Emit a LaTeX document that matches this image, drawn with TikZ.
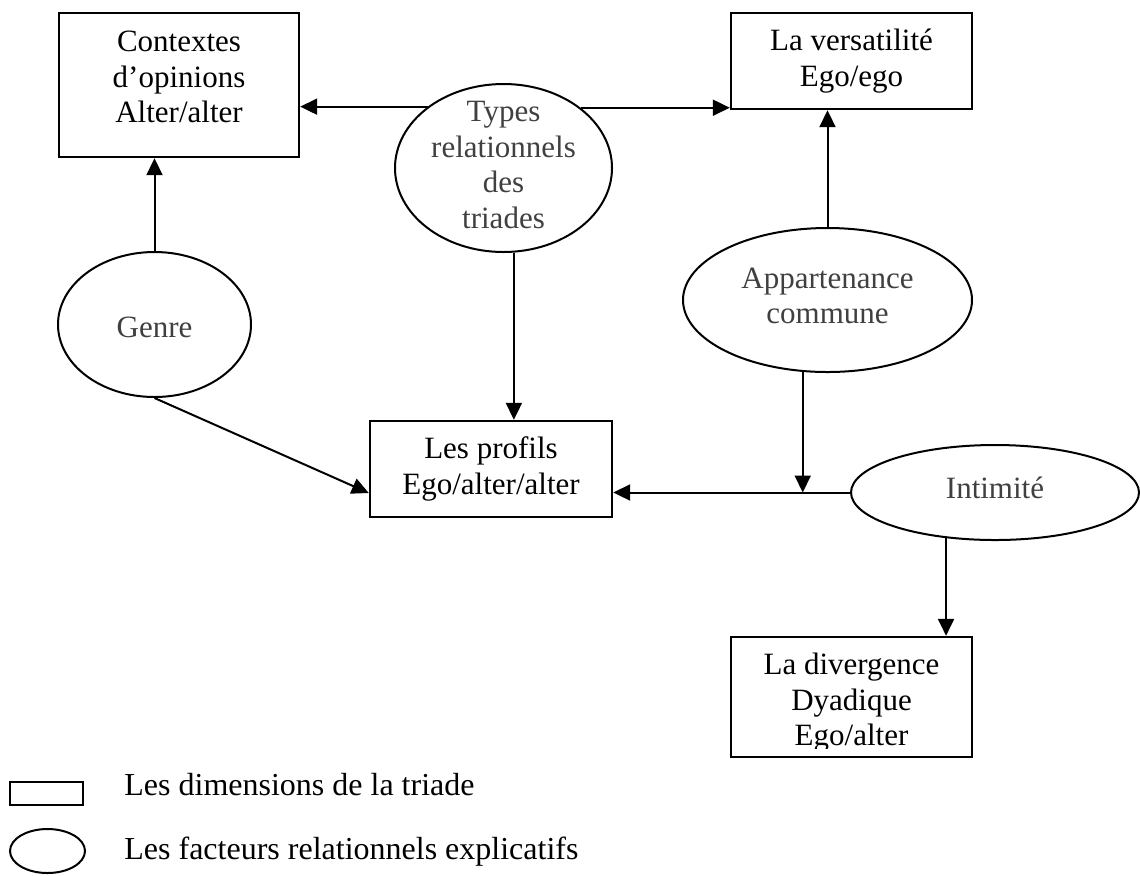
\documentclass[tikz,border=0pt]{standalone}
\usepackage{fontspec}
\setmainfont{Liberation Serif}
\usetikzlibrary{arrows.meta,shapes.geometric}
\newcommand{\nodefont}{\fontsize{15.5}{17.75}\selectfont}
\newcommand{\legendfont}{\fontsize{16}{19}\selectfont}
\definecolor{factorgray}{gray}{0.25}

\begin{document}
\begin{tikzpicture}[x=0.5pt, y=-0.5pt,
		dimtext/.style={align=center, font=\nodefont, text=black},
		dimbox/.style={draw, line width=1.2pt, rectangle, inner sep=0pt, dimtext},
		factor/.style={draw, line width=1pt, ellipse, inner sep=0pt},
		factortext/.style={align=center, font=\nodefont, text=factorgray},
		legendtext/.style={anchor=base west, inner sep=0pt, font=\legendfont},
		link/.style={line width=1pt, -{Triangle[length=8.5pt, width=8pt]}}]
		\useasboundingbox (0,0) rectangle (1140,875);

		% dimensions de la triade
		\node [dimbox, minimum width=120pt, minimum height=72pt] (CTX) at (179, 85) {};
		\node [dimtext] (CTXt) at (179, 77) {Contextes\\d'opinions\\Alter/alter};
		\node [dimbox, minimum width=120.5pt, minimum height=48pt] (VER) at (851.5, 61) {La versatilité\\Ego/ego};
		\node [dimbox, minimum width=121pt, minimum height=48pt] (PRO) at (491, 469) {Les profils\\Ego/alter/alter};
		\node [dimbox, minimum width=120.5pt, minimum height=60pt] (DIV) at (851.5, 697) {};
		\begin{scope}
			\clip (DIV.north west) rectangle ([yshift=5pt]DIV.south east);
			\node [dimtext] (DIVt) at (851.5, 703) {La divergence\\Dyadique\\Ego/alter};
		\end{scope}

		% facteurs relationnels
		\node [factor, minimum width=108.5pt, minimum height=84pt,
			label={[factortext, yshift=1.5pt]center:{Types\\relationnels\\des\\triades}}] (TYP) at (503.5, 168) {};
		\node [factor, minimum width=96.5pt, minimum height=72.5pt,
			label={[factortext, yshift=-1.5pt]center:Genre}] (GEN) at (154.5, 324.5) {};
		\node [factor, minimum width=144.5pt, minimum height=72pt,
			label={[factortext, yshift=2pt]center:{Appartenance\\commune}}] (APP) at (827.5, 300) {};
		\node [factor, minimum width=144pt, minimum height=47.5pt,
			label={[factortext, yshift=2.5pt]center:Intimité}] (INT) at (995, 492.5) {};

		\draw [link] (TYP.141.7) -- (TYP.141.7 -| CTX.east);
		\draw [link] (TYP.38.3) -- (TYP.38.3 -| VER.west);
		\draw [link] (GEN.north) -- (GEN.north |- CTX.south);
		\draw [link] (TYP.277.8) -- (TYP.277.8 |- PRO.north);
		\draw [link] (APP.north) -- (APP.north |- VER.south);
		\draw [link] (APP.251) -- (APP.251 |- INT.west);
		\draw [link] (INT.west) -- (INT.west -| PRO.east);
		\draw [link] (INT.223.7) -- (INT.223.7 |- DIV.north);
		\draw [link] (GEN.south) -- ([yshift=-12pt]PRO.west);

		% legende
		\node [dimbox, line width=1pt, minimum width=36.5pt, minimum height=11.5pt] (LGB) at (46.5, 793.5) {};
		\node [factor, minimum width=37.5pt, minimum height=22pt] (LGE) at (47.5, 851) {};
		\node [legendtext] (LGBt) at (124, 795) {Les dimensions de la triade};
		\node [legendtext] (LGEt) at (124, 859) {Les facteurs relationnels explicatifs};
\end{tikzpicture}
\end{document}
